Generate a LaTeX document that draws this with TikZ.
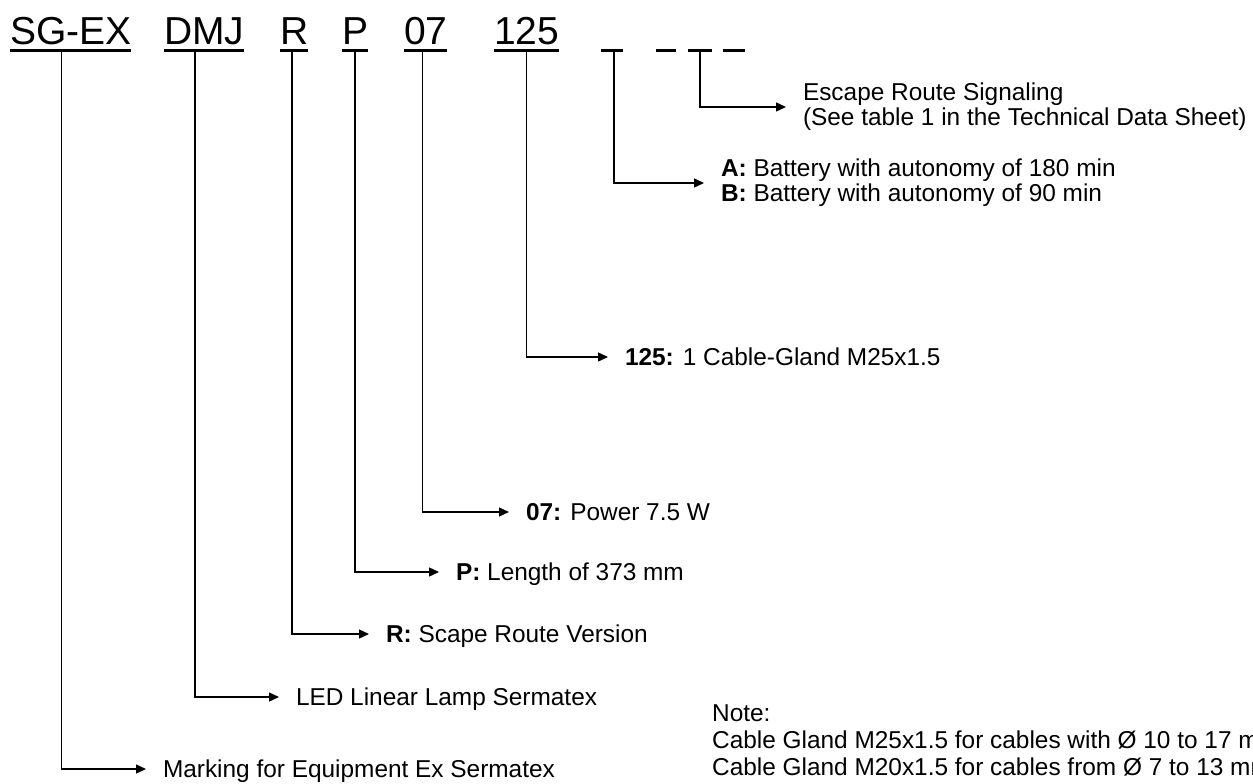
\documentclass[tikz,border=0pt]{standalone}
\usepackage{fontspec}
\setmainfont{Liberation Sans}
\usetikzlibrary{arrows.meta}

\tikzset{
	code/.style={font=\fontsize{39}{44}\selectfont, inner sep=0pt, outer sep=0pt, text depth=5.5pt, anchor=base west},
	blank/.style={code, minimum width=#1},
	uline/.style={line width=3pt},
	link/.style={line width=1.4pt, -{Triangle[length=10pt,width=9pt]}},
	desc/.style={font=\fontsize{24.4}{25}\selectfont, anchor=west, inner sep=0pt, outer xsep=17pt, outer ysep=0pt, align=left},
	oneline/.style={text height=21pt, text depth=4pt}
}

\begin{document}
\begin{tikzpicture}[x=1pt, y=-1pt]
			%%%%% START %%%%%
			\fill[white] (0, 0) rectangle (1253, 784);
			\useasboundingbox (0, 0) rectangle (1253, 784);
			
			% code of the lamp
			\node[code] (sgex) at (10, 45) {SG-EX};
			\node[code] (dmj) at (164, 45) {DMJ};
			\node[code] (r) at (280, 45) {R};
			\node[code] (p) at (342, 45) {P};
			\node[code] (n07) at (404, 45) {07};
			\node[code] (n125) at (494, 45) {125};
			\node[blank=22pt] (d1) at (601, 45) {};
			\node[blank=20pt] (d2) at (656, 45) {};
			\node[blank=24pt] (d3) at (688, 45) {};
			\node[blank=22pt] (d4) at (723, 45) {};
			
			\foreach \n in {sgex, dmj, r, p, n07, n125, d1, d2, d3, d4}
				\draw[uline] (\n.south west) -- (\n.south east);
			
			% meanings
			\node[desc] (escape) at (786, 107) {Escape Route Signaling\\(See table 1 in the Technical Data Sheet)};
			\node[desc] (battery) at (704, 183) {\textbf{A:} Battery with autonomy of 180 min\\\textbf{B:} Battery with autonomy of 90 min};
			\node[desc, oneline] (gland) at (608, 357) {\textbf{125:} 1 Cable-Gland M25x1.5};
			\node[desc, oneline] (power) at (509, 512) {\textbf{07:} Power 7.5 W};
			\node[desc, oneline] (length) at (439, 572) {\textbf{P:} Length of 373 mm};
			\node[desc, oneline] (version) at (369, 634) {\textbf{R:} Scape Route Version};
			\node[desc, oneline] (lamp) at (279, 697) {LED Linear Lamp Sermatex};
			\node[desc, oneline] (mark) at (146, 769) {Marking for Equipment Ex Sermatex};
			
			\node[font=\fontsize{24.4}{27}\selectfont, anchor=west, inner sep=0pt, align=left] (note) at (712, 740)
				{Note:\\Cable Gland M25x1.5 for cables with \O{} 10 to 17 mm\\Cable Gland M20x1.5 for cables from \O{} 7 to 13 mm};
			
			% connectors
			\draw[link] ([xshift=-9pt]sgex.south) |- (mark.west);
			\draw[link] ([xshift=-9pt]dmj.south) |- (lamp.west);
			\draw[link] ([xshift=-2pt]r.south) |- (version.west);
			\draw[link] (p.south) |- (length.west);
			\draw[link] ([xshift=-3pt]n07.south) |- (power.west);
			\draw[link] (n125.south) |- (gland.west);
			\draw[link] ([xshift=2pt]d1.south) |- (battery.west);
			\draw[link] (d3.south) |- (escape.west);
			
			%%%%% END %%%%%
\end{tikzpicture}
\end{document}
